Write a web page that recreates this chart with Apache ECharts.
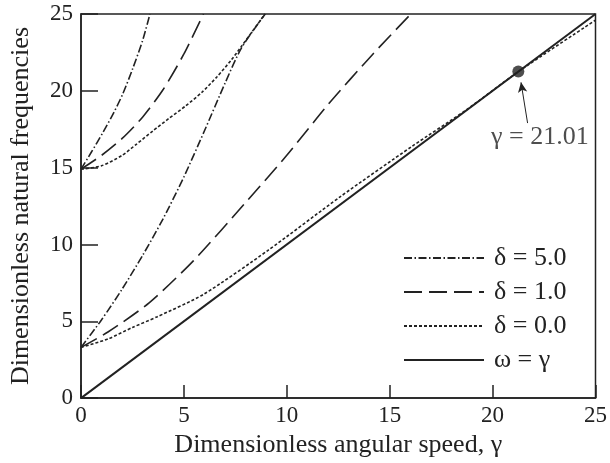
<!DOCTYPE html>
<html><head><meta charset="utf-8">
<script src="https://cdn.jsdelivr.net/npm/echarts@6/dist/echarts.min.js"></script>
<style>html,body{margin:0;padding:0;background:#fff}#c{width:610px;height:463px}</style>
</head><body><div id="c"></div>
<script>
const xTicks = [0, 5, 10, 15, 20, 25];
const yTicks = [0, 5, 10, 15, 20, 25];
const d5Lower = [[0,3.3],[1,5.1],[2,7.1],[3,9.3],[4,11.7],[5,14.4],[6,17.4],[7,20.5],[7.8,22.8],[8.95,25]];
const d5Upper = [[0,14.9],[0.5,16.0],[1.07,17.3],[1.6,18.6],[2.03,19.8],[2.5,21.4],[3.0,23.3],[3.35,25]];
const d1Lower = [[0,3.3],[1.31,4.3],[3.31,6.2],[5.47,8.95],[8.11,12.9],[10,15.8],[12,19.1],[14.19,22.4],[16.03,25]];
const d1Upper = [[0,14.9],[1,15.8],[2,16.9],[3,18.3],[4,20.1],[5,22.4],[5.95,25]];
const d0Lower = [[0,3.3],[1.31,3.85],[2.5,4.6],[3.71,5.3],[5.95,6.75],[9.07,9.6],[12.59,13.1],[16.1,16.4],[18.66,18.7],[21.2,21.2],[25,24.6]];
const d0Upper = [[0,14.9],[1,15.12],[2,15.8],[2.67,16.5],[3.5,17.4],[4.27,18.2],[5.07,19.0],[5.87,19.9],[6.6,20.9],[7.3,22.0],[7.8,22.9],[8.94,25]];
const omegaLine = [[0,0],[25,25]];
const critPoint = [[21.25,21.25]];
const critLabel = 'γ = 21.01';
const critLabelPos = [[22.3,16.97]];
const arrowFrom = [21.7,17.9];
const arrowTo = [21.38,20.55];

const FONT = 'Liberation Serif';
const C = '#222';
const chart = echarts.init(document.getElementById('c'));
function ln(name, data, type, width){
  return {name, type:'line', data, symbol:'none', smooth:0.25, silent:true,
    itemStyle:{color:C},
    lineStyle:{color:C, width:width||1.6, type:type}, z:3};
}
chart.setOption({
  animation:false,
  textStyle:{fontFamily:FONT},
  grid:{left:81,right:8,top:14,bottom:63,show:true,borderColor:C,borderWidth:1.5,backgroundColor:'transparent'},
  xAxis:{type:'value',min:0,max:25,interval:5,
    name:'Dimensionless angular speed, γ',nameLocation:'middle',nameGap:33,
    nameTextStyle:{fontFamily:FONT,fontSize:26,color:C},
    axisLine:{lineStyle:{color:C,width:1.5}},
    axisTick:{inside:true,length:13,lineStyle:{color:C,width:1.5}},
    axisLabel:{fontFamily:FONT,fontSize:23,color:C,margin:6,
      formatter:v=>xTicks.includes(v)?String(v):''},
    splitLine:{show:false}},
  yAxis:{type:'value',min:0,max:25,interval:5,
    name:'Dimensionless natural frequencies',nameLocation:'middle',nameGap:47,
    nameTextStyle:{fontFamily:FONT,fontSize:26,color:C},
    axisLine:{lineStyle:{color:C,width:1.5}},
    axisTick:{inside:true,length:17,lineStyle:{color:C,width:1.5}},
    axisLabel:{fontFamily:FONT,fontSize:23,color:C,margin:8,
      formatter:v=>yTicks.includes(v)?String(v):''},
    splitLine:{show:false}},
  legend:{orient:'vertical',left:398,top:240,itemWidth:80,itemHeight:20,itemGap:8,
    itemStyle:{opacity:0},
    data:['δ = 5.0','δ = 1.0','δ = 0.0','ω = γ'],
    textStyle:{fontFamily:FONT,fontSize:26,color:C,lineHeight:26,padding:[0,0,0,5]},
    selectedMode:false},
  series:[
    ln('δ = 5.0', d5Lower, [8,2.5,1.5,2.5]),
    ln('δ = 5.0', d5Upper, [8,2.5,1.5,2.5]),
    ln('δ = 1.0', d1Lower, [18,7]),
    ln('δ = 1.0', d1Upper, [18,7]),
    ln('δ = 0.0', d0Lower, [3,2]),
    ln('δ = 0.0', d0Upper, [3,2]),
    {name:'ω = γ',type:'line',data:omegaLine,symbol:'none',silent:true,itemStyle:{color:C},lineStyle:{color:C,width:2,type:'solid'},z:4},
    {name:'crit',type:'scatter',data:critPoint,symbolSize:12,itemStyle:{color:C},z:6,silent:true,
      markLine:{silent:true,symbol:['none','arrow'],symbolSize:[7,10],lineStyle:{color:C,width:1,type:'solid'},label:{show:false},
        data:[[{coord:arrowFrom},{coord:arrowTo}]]}},
    {name:'critText',type:'scatter',data:critLabelPos,symbolSize:0,silent:true,
      label:{show:true,position:'inside',formatter:critLabel,fontFamily:FONT,fontSize:26,color:C}}
  ]
});
</script></body></html>
